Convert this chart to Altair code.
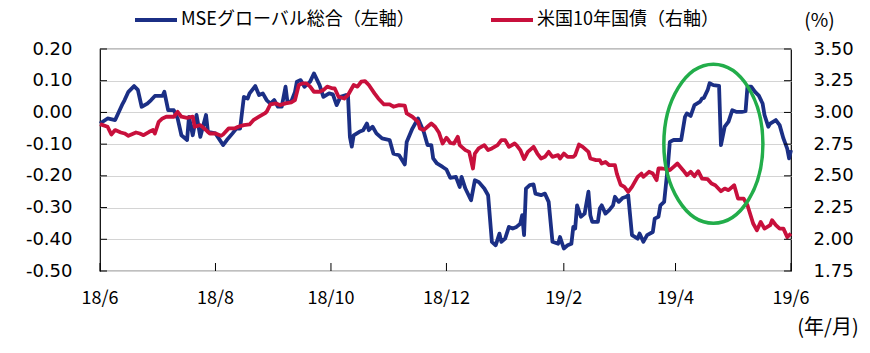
import altair as alt
import pandas as pd

START = "2018-06-01"
series_names = ["MSEグローバル総合（左軸）", "米国10年国債（右軸）"]

# MSE global composite (left axis), days since 2018-06-01
blue_days = [0, 4, 8, 12, 13, 15, 18, 20, 22, 25, 27, 29, 33, 34, 36, 39, 41, 43, 46, 47,
             49, 51, 53, 56, 57, 61, 65, 67, 70, 72, 74, 76, 78, 79, 82, 84, 86, 88, 90, 92,
             94, 96, 98, 99, 101, 103, 104, 106, 108, 109, 111, 113, 116, 118, 121, 123, 125, 127, 130, 131,
             132, 133, 134, 137, 139, 141, 142, 144, 146, 149, 153, 155, 158, 161, 162, 165, 168, 171, 173, 175,
             176, 178, 181, 183, 185, 188, 190, 191, 193, 196, 198, 200, 203, 205, 207, 209, 211, 212, 214, 216,
             218, 220, 222, 223, 224, 225, 227, 229, 230, 233, 235, 237, 239, 242, 243, 245, 247, 249, 250, 251,
             252, 254, 256, 258, 259, 260, 263, 264, 265, 267, 269, 271, 272, 274, 276, 278, 279, 281, 284, 285,
             287, 289, 292, 293, 295, 296, 298, 300, 301, 303, 307, 309, 310, 312, 314, 317, 318, 319, 321, 322,
             324, 327, 328, 330, 332, 334, 336, 339, 341, 342, 344, 346, 348, 350, 351, 353, 354, 357, 359, 361,
             363, 364, 365]
blue_vals = [-0.035, -0.019, -0.024, 0.028, 0.039, 0.065, 0.083, 0.071, 0.018, 0.028, 0.039, 0.052, 0.052, 0.065, 0.007, 0.007, -0.019, -0.072, -0.087, -0.014,
             -0.072, -0.008, -0.077, -0.008, -0.061, -0.066, -0.103, -0.087, -0.066, -0.051, -0.051, 0.049, 0.044, 0.060, 0.083, 0.055, 0.060, 0.039, 0.028, 0.039,
             0.018, 0.018, 0.081, 0.034, 0.034, 0.065, 0.097, 0.102, 0.081, 0.086, 0.097, 0.123, 0.086, 0.049, 0.060, 0.057, 0.023, 0.049, 0.055, 0.053,
             -0.077, -0.108, -0.072, -0.061, -0.056, -0.035, -0.056, -0.045, -0.066, -0.082, -0.087, -0.130, -0.135, -0.164, -0.093, -0.051, -0.019, -0.061, -0.103, -0.103,
             -0.145, -0.161, -0.172, -0.180, -0.206, -0.203, -0.235, -0.203, -0.240, -0.277, -0.214, -0.219, -0.240, -0.261, -0.408, -0.419, -0.382, -0.408, -0.398, -0.361,
             -0.366, -0.361, -0.351, -0.324, -0.387, -0.240, -0.229, -0.227, -0.256, -0.261, -0.256, -0.282, -0.408, -0.414, -0.393, -0.429, -0.419, -0.414, -0.361, -0.366,
             -0.293, -0.329, -0.319, -0.250, -0.324, -0.345, -0.345, -0.303, -0.293, -0.319, -0.308, -0.293, -0.266, -0.282, -0.270, -0.266, -0.261, -0.387, -0.398, -0.382,
             -0.408, -0.387, -0.377, -0.335, -0.329, -0.293, -0.282, -0.166, -0.093, -0.087, -0.087, -0.014, -0.003, -0.011, 0.023, 0.034, 0.044, 0.046, 0.071, 0.092,
             0.086, 0.084, -0.103, -0.045, -0.029, 0.007, 0.002, 0.002, 0.004, 0.081, 0.081, 0.065, 0.053, 0.028, -0.008, -0.045, -0.035, -0.024, -0.040, -0.082,
             -0.114, -0.145, -0.119]

# US 10-year Treasury yield, % (right axis)
red_days = [0, 4, 6, 8, 11, 13, 15, 19, 21, 23, 26, 28, 29, 31, 33, 35, 39, 41, 43, 46,
            49, 50, 53, 56, 58, 61, 64, 65, 68, 71, 73, 76, 79, 81, 84, 87, 88, 90, 93, 95,
            98, 101, 103, 105, 107, 109, 111, 113, 116, 118, 120, 123, 124, 126, 129, 131, 134, 136, 138, 140,
            142, 145, 147, 150, 153, 155, 158, 161, 162, 165, 168, 169, 171, 173, 175, 177, 179, 181, 183, 184,
            185, 187, 189, 190, 193, 195, 197, 198, 200, 203, 205, 207, 210, 212, 214, 216, 219, 220, 222, 224,
            226, 229, 231, 233, 235, 237, 239, 242, 243, 245, 247, 250, 251, 253, 255, 258, 259, 262, 264, 265,
            267, 269, 272, 273, 275, 277, 279, 281, 284, 286, 287, 290, 292, 294, 295, 297, 299, 301, 303, 305,
            308, 310, 312, 314, 316, 318, 321, 323, 325, 328, 330, 332, 335, 337, 340, 342, 345, 347, 349, 351,
            354, 355, 357, 359, 361, 363, 365]
red_vals = [2.908, 2.887, 2.826, 2.861, 2.842, 2.834, 2.816, 2.842, 2.834, 2.821, 2.847, 2.861, 2.834, 2.926, 2.953, 2.966, 2.966, 3.005, 2.966, 2.958,
            2.966, 2.887, 2.900, 2.861, 2.834, 2.834, 2.816, 2.826, 2.874, 2.874, 2.887, 2.900, 2.905, 2.939, 2.966, 2.992, 3.005, 3.064, 3.071, 3.058,
            3.071, 3.079, 3.097, 3.216, 3.229, 3.229, 3.203, 3.163, 3.163, 3.176, 3.203, 3.189, 3.189, 3.124, 3.110, 3.137, 3.216, 3.203, 3.242, 3.247,
            3.216, 3.150, 3.110, 3.063, 3.063, 3.045, 3.058, 3.053, 2.992, 2.966, 2.926, 2.874, 2.861, 2.887, 2.913, 2.887, 2.842, 2.755, 2.800, 2.782,
            2.760, 2.755, 2.808, 2.742, 2.703, 2.689, 2.558, 2.676, 2.716, 2.742, 2.703, 2.716, 2.742, 2.782, 2.782, 2.729, 2.755, 2.742, 2.703, 2.632,
            2.689, 2.729, 2.676, 2.637, 2.650, 2.689, 2.650, 2.663, 2.637, 2.676, 2.650, 2.650, 2.663, 2.747, 2.729, 2.689, 2.637, 2.624, 2.624, 2.597,
            2.610, 2.584, 2.584, 2.518, 2.430, 2.413, 2.374, 2.413, 2.492, 2.518, 2.492, 2.532, 2.518, 2.466, 2.558, 2.558, 2.553, 2.545, 2.571, 2.597,
            2.545, 2.505, 2.532, 2.497, 2.537, 2.479, 2.474, 2.439, 2.426, 2.379, 2.400, 2.387, 2.426, 2.321, 2.321, 2.268, 2.124, 2.071, 2.137, 2.084,
            2.111, 2.150, 2.111, 2.084, 2.084, 2.018, 2.045]

left_ticks = [0.2, 0.1, 0.0, -0.1, -0.2, -0.3, -0.4, -0.5]
right_ticks = [3.5, 3.25, 3.0, 2.75, 2.5, 2.25, 2.0, 1.75]
x_tick_dates = ["2018-06-01", "2018-08-01", "2018-10-01", "2018-12-01", "2019-02-01", "2019-04-01", "2019-06-01"]
x_tick_labels = ["18/6", "18/8", "18/10", "18/12", "19/2", "19/4", "19/6"]
x_unit_label = ["(年/月)"]

# highlighted period (ellipse annotation): centre date and level on the left axis
highlight_date = ["2019-04-21"]
highlight_level = [-0.099]

BLUE = "#1b2f85"
RED = "#c8103c"
GREEN = "#22ad4a"
JP = "Noto Sans CJK JP"
NUM = "DejaVu Sans"

start = pd.Timestamp(START)
blue_df = pd.DataFrame({"date": start + pd.to_timedelta(blue_days, unit="D"),
                        "v": blue_vals, "series": series_names[0]})
red_df = pd.DataFrame({"date": start + pd.to_timedelta(red_days, unit="D"),
                       "r": red_vals, "series": series_names[1]})
lt_df = pd.DataFrame({"v": left_ticks})
rt_df = pd.DataFrame({"r": right_ticks})
xt_df = pd.DataFrame({"date": pd.to_datetime(x_tick_dates), "label": x_tick_labels})
xu_df = pd.DataFrame({"date": pd.to_datetime([x_tick_dates[-1]]), "label": x_unit_label})
hl_df = pd.DataFrame({"date": pd.to_datetime(highlight_date), "v": highlight_level})

W, H = 691, 222

def dt(s):
    t = pd.Timestamp(s)
    return alt.DateTime(year=t.year, month=t.month, date=t.day)

x_scale = alt.Scale(domain=[dt("2018-06-01"), dt("2019-06-01")])
left_scale = alt.Scale(domain=[-0.5, 0.2], nice=False, zero=False)
right_scale = alt.Scale(domain=[1.75, 3.5], nice=False, zero=False)
color_scale = alt.Scale(domain=series_names, range=[BLUE, RED])

left_axis = alt.Axis(values=left_ticks, orient="left",
                     labelExpr="replace(format(datum.value, '.2f'), '\u2212', '-')",
                     labelFont=NUM, labelFontSize=18, labelColor="#000", labelPadding=28,
                     ticks=False, domain=False, grid=True, gridColor="#d4d4d4", gridWidth=1,
                     title=None)

right_axis = alt.Axis(values=right_ticks, format=".2f", orient="right",
                      labelFont=NUM, labelFontSize=18, labelColor="#000", labelPadding=22,
                      ticks=False, domain=False, grid=False,
                      title="(%)", titleX=28, titleY=-29, titleFont=JP, titleFontSize=19,
                      titleFontWeight="normal", titleAlign="center", titleBaseline="middle",
                      titleAngle=0, titleColor="#000")

legend = alt.Legend(orient="none", legendX=33, legendY=-52, direction="horizontal",
                    columns=2, title=None, symbolType="stroke", symbolSize=1764,
                    symbolStrokeWidth=4, labelFont=JP, labelFontSize=18, labelColor="#000",
                    labelOffset=2, columnPadding=68, labelLimit=0, padding=0)

blue_line = alt.Chart(blue_df).mark_line(strokeWidth=3.8, strokeJoin="round").encode(
    x=alt.X("date:T", scale=x_scale, axis=None),
    y=alt.Y("v:Q", scale=left_scale, axis=left_axis),
    color=alt.Color("series:N", scale=color_scale, legend=legend),
)
red_line = alt.Chart(red_df).mark_line(strokeWidth=3.8, strokeJoin="round").encode(
    x=alt.X("date:T", scale=x_scale, axis=None),
    y=alt.Y("r:Q", scale=right_scale, axis=right_axis),
    color=alt.Color("series:N", scale=color_scale, legend=None),
)
left_tick_marks = alt.Chart(lt_df).mark_rule(color="#000", strokeWidth=1).encode(
    x=alt.value(0), x2=alt.value(7),
    y=alt.Y("v:Q", scale=left_scale, axis=None),
)
right_tick_marks = alt.Chart(rt_df).mark_rule(color="#000", strokeWidth=1).encode(
    x=alt.value(W - 7), x2=alt.value(W),
    y=alt.Y("r:Q", scale=right_scale, axis=None),
)
x_tick_marks = alt.Chart(xt_df).mark_rule(color="#000", strokeWidth=1).encode(
    x=alt.X("date:T", scale=x_scale, axis=None),
    y=alt.value(H - 8), y2=alt.value(H),
)
x_tick_text = alt.Chart(xt_df).mark_text(font=JP, fontSize=18, color="#000",
                                         align="center", baseline="middle").encode(
    x=alt.X("date:T", scale=x_scale, axis=None),
    y=alt.value(H + 28),
    text="label:N",
)
x_unit_text = alt.Chart(xu_df).mark_text(font=JP, fontSize=20, color="#000",
                                         align="center", baseline="middle", dx=37).encode(
    x=alt.X("date:T", scale=x_scale, axis=None),
    y=alt.value(H + 57),
    text="label:N",
)

ELLIPSE = "M -0.623,0 A 0.623,1 0 1,0 0.623,0 A 0.623,1 0 1,0 -0.623,0 Z"
ellipse = alt.Chart(hl_df).mark_point(shape=ELLIPSE, size=25281, filled=False,
                                      stroke=GREEN, strokeWidth=3.5, opacity=1).encode(
    x=alt.X("date:T", scale=x_scale, axis=None),
    y=alt.Y("v:Q", scale=left_scale, axis=None),
)

chart = alt.layer(blue_line, red_line, left_tick_marks, right_tick_marks, x_tick_marks,
                  x_tick_text, x_unit_text, ellipse
                  ).resolve_scale(y="independent").properties(
    width=W, height=H,
    autosize=alt.AutoSizeParams(type="none"),
    padding={"left": 100, "top": 49, "right": 79, "bottom": 82},
    background="white",
).configure_view(stroke="#000", strokeWidth=1.2)

chart.save("out.html", embed_options={"renderer": "svg", "actions": False})
